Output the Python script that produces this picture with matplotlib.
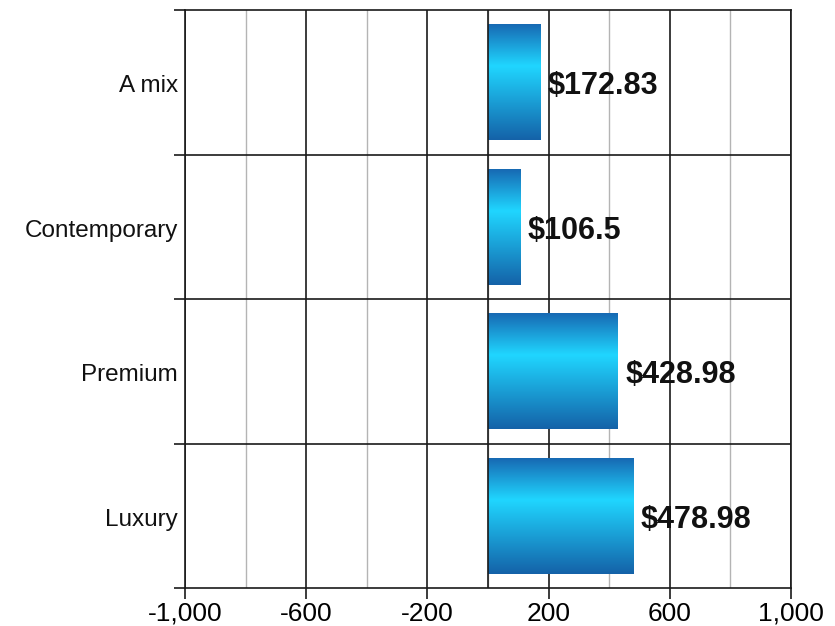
import numpy as np
import matplotlib
matplotlib.use("Agg")
import matplotlib.pyplot as plt
from matplotlib.colors import LinearSegmentedColormap

categories = ["A mix", "Contemporary", "Premium", "Luxury"]
values = [172.83, 106.5, 428.98, 478.98]
labels = ["$172.83", "$106.5", "$428.98", "$478.98"]
major_ticks = [-1000, -600, -200, 200, 600, 1000]
minor_ticks = [-800, -400, 0, 400, 800]
tick_labels = ["-1,000", "-600", "-200", "200", "600", "1,000"]


def main():
    plt.rcParams['font.family'] = ['Liberation Sans', 'DejaVu Sans']
    fig = plt.figure(figsize=(8.35, 6.26), dpi=100)
    ax = fig.add_axes([185 / 835, 1 - 588 / 626, 606 / 835, 578 / 626])

    # gridlines
    for x in minor_ticks:
        ax.axvline(x, color="#b4b4b4", lw=1.0, zorder=1)
    for x in major_ticks:
        ax.axvline(x, color="#1a1a1a", lw=1.2, zorder=1)
    ax.axvline(0, color="#1a1a1a", lw=1.2, zorder=3)
    bounds = [i + 0.5 for i in range(len(categories) - 1)]
    for y in bounds:
        ax.axhline(y, color="#1a1a1a", lw=1.2, zorder=1)

    # gradient bars
    cmap = LinearSegmentedColormap.from_list(
        "bar", [(0, "#1769b3"), (0.36, "#20d6ff"), (1, "#1462a8")])
    grad = np.linspace(0, 1, 256).reshape(-1, 1)
    h = 0.8
    for i, v in enumerate(values):
        ax.imshow(grad, cmap=cmap, aspect="auto",
                  extent=[0, v, i + h / 2, i - h / 2], zorder=2,
                  interpolation="bicubic")
        ax.text(v + 24, i + 0.005, labels[i], va="center_baseline", ha="left",
                fontsize=22, fontweight="bold", color="#111111", zorder=4)

    ax.set_xlim(-1000, 1000)
    ax.set_ylim(len(categories) - 0.5, -0.5)

    ax.set_xticks(major_ticks)
    ax.set_xticklabels(tick_labels, fontsize=19)
    ax.set_yticks([-0.5] + bounds + [len(categories) - 0.5])
    ax.set_yticklabels([])
    for i, c in enumerate(categories):
        ax.text(-1000 - 24, i + 0.01, c, ha="right", va="center_baseline",
                fontsize=17.5, color="#111111")
    ax.tick_params(axis="both", length=8, width=1.2, color="#1a1a1a")
    ax.tick_params(axis="x", pad=2)

    for s in ax.spines.values():
        s.set_color("#1a1a1a")
        s.set_linewidth(1.2)

    fig.savefig("out.png", dpi=100)


if __name__ == "__main__":
    main()
